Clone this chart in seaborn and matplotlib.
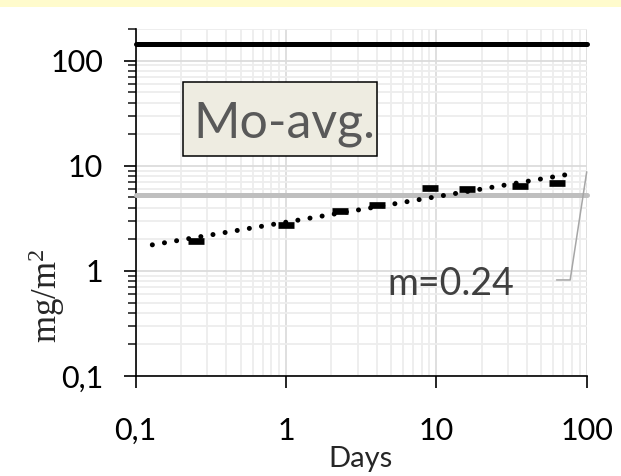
import matplotlib
matplotlib.use("Agg")
import matplotlib.pyplot as plt
import seaborn as sns
from matplotlib.patches import Rectangle
from matplotlib.ticker import FixedLocator, FixedFormatter, LogLocator, NullFormatter

# measured averages (days, mg/m2)
days = [0.25, 1.0, 2.3, 4.0, 9.1, 16.0, 36.0, 63.0]
mo_avg = [1.93, 2.76, 3.73, 4.19, 6.13, 6.04, 6.49, 6.93]

# power-law trend, end points of the fitted line
trend_days = [0.129, 84.5]
trend_vals = [1.77, 8.52]
slope_text = "m=0.24"

upper_limit = 145.0   # black reference line
lower_limit = 5.3     # grey reference line

x_ticks = [0.1, 1, 10, 100]
x_labels = ["0,1", "1", "10", "100"]
y_ticks = [0.1, 1, 10, 100]
y_labels = ["0,1", "1", "10", "100"]

sns.set_style("white")
plt.rcParams["font.family"] = ["Lato", "DejaVu Sans"]
plt.rcParams["mathtext.fontset"] = "custom"
plt.rcParams["mathtext.rm"] = "Liberation Serif"
plt.rcParams["mathtext.it"] = "Liberation Serif:italic"

fig = plt.figure(figsize=(6.21, 4.76), dpi=100)
ax = fig.add_axes([0.2185, 0.2101, 0.7263, 0.7289])
ax.set_xscale("log")
ax.set_yscale("log")
ax.set_xlim(0.1, 100)
ax.set_ylim(0.1, 200)

# pale yellow strip on top of the picture
fig.add_artist(Rectangle((0, 1 - 6.5 / 476), 1, 6.5 / 476, transform=fig.transFigure,
                         facecolor="#fffbcc", edgecolor="none"))

ax.set_axisbelow(True)
ax.yaxis.set_minor_locator(LogLocator(base=10, subs=range(2, 10)))
ax.xaxis.set_minor_locator(LogLocator(base=10, subs=range(2, 10)))
ax.yaxis.set_minor_formatter(NullFormatter())
ax.xaxis.set_minor_formatter(NullFormatter())
ax.grid(which="major", color="#dcdcdc", lw=1.3)
ax.grid(which="minor", color="#ededed", lw=1.3)

sns.lineplot(x=[0.1, 100], y=[upper_limit, upper_limit], ax=ax, color="black",
             lw=3.6, solid_capstyle="round", clip_on=False, zorder=3)
sns.lineplot(x=[0.1, 100], y=[lower_limit, lower_limit], ax=ax, color="#bfbfbf",
             lw=3.6, solid_capstyle="round", clip_on=False, zorder=3)

sns.lineplot(x=trend_days, y=trend_vals, ax=ax, color="black", lw=3.6,
             linestyle=(0, (0.01, 2.45)), dash_capstyle="round", zorder=4)
sns.scatterplot(x=days, y=mo_avg, ax=ax, marker="_", s=135, linewidth=4.8,
                color="black", zorder=5)

# leader line to the slope label
ax.plot([100, 77.6, 63], [8.77, 0.82, 0.82], color="#a6a6a6", lw=1.1,
        clip_on=False, zorder=4)
ax.text(0.559, 0.233, slope_text, transform=ax.transAxes, fontsize=27,
        color="#404040", ha="left", va="baseline", zorder=6)

ax.add_patch(Rectangle((0.105, 0.634), 0.43, 0.213, transform=ax.transAxes,
                       facecolor="#eeece1", edgecolor="black", lw=1.1, zorder=6))
ax.text(0.129, 0.686, "Mo-avg.", transform=ax.transAxes, fontsize=36,
        color="#595959", ha="left", va="baseline", zorder=7)

ax.xaxis.set_major_locator(FixedLocator(x_ticks))
ax.xaxis.set_major_formatter(FixedFormatter(x_labels))
ax.yaxis.set_major_locator(FixedLocator(y_ticks))
ax.yaxis.set_major_formatter(FixedFormatter(y_labels))

for side in ["top", "right"]:
    ax.spines[side].set_visible(False)
for side in ["left", "bottom"]:
    ax.spines[side].set_color("black")
    ax.spines[side].set_linewidth(1.2)

ax.tick_params(axis="both", which="major", direction="out", length=8.5, width=1.2,
               labelsize=22, colors="black")
ax.tick_params(axis="y", which="major", left=True, pad=15)
ax.tick_params(axis="x", which="major", bottom=True, pad=21)
ax.tick_params(axis="y", which="minor", left=True, direction="out", length=5.8, width=1.2)
ax.tick_params(axis="x", which="minor", bottom=False, length=0)

ax.set_xlabel("")
ax.set_ylabel("")
fig.text(0.5813, 0.018, "Days", ha="center", va="baseline", fontsize=21)
fig.text(0.0757, 0.378, r"mg/m$^{2}$", rotation=90, ha="center", va="center",
         fontsize=25, family=["Liberation Serif", "DejaVu Serif"])

fig.savefig("out.png", dpi=100)
